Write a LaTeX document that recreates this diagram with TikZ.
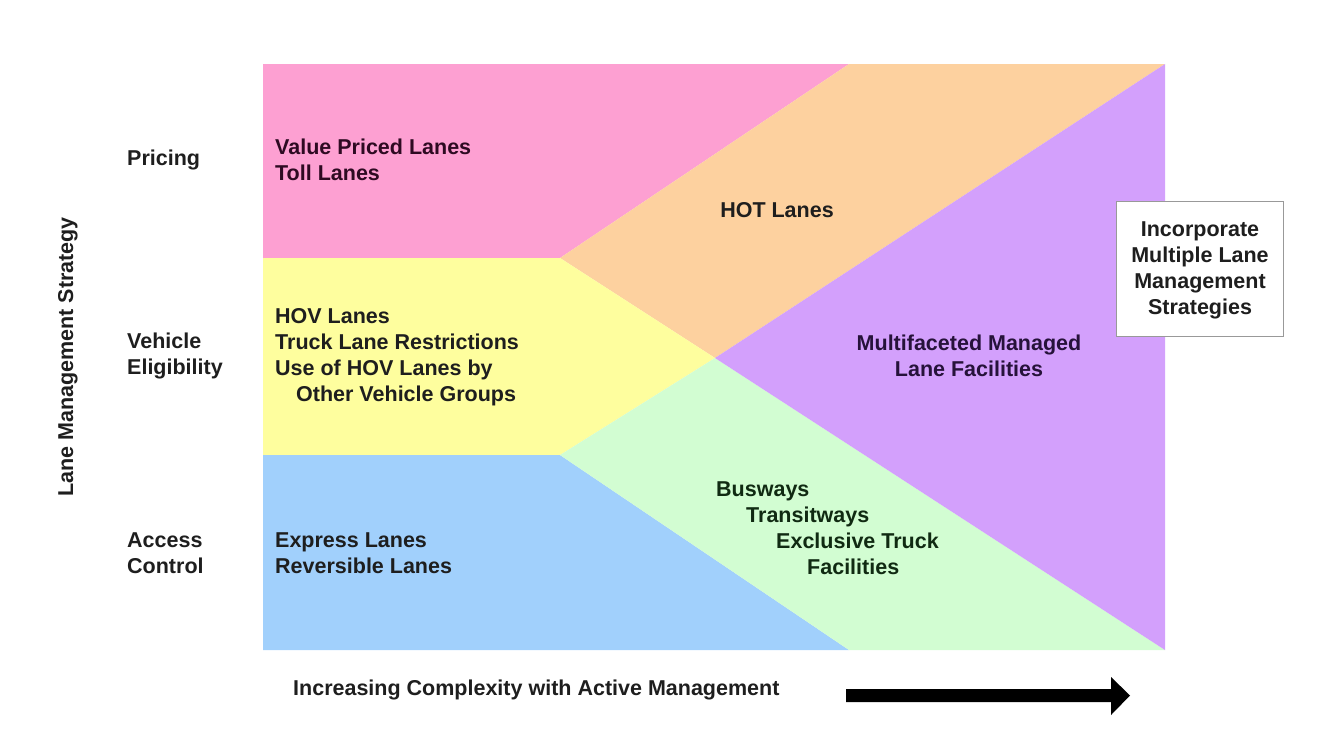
\documentclass[tikz,border=0pt]{standalone}
\usepackage{fontspec}
\setmainfont{Liberation Sans}
\definecolor{cpink}{HTML}{FDA0D2}
\definecolor{corange}{HTML}{FDD19F}
\definecolor{cyellow}{HTML}{FEFE9E}
\definecolor{cblue}{HTML}{A1D0FC}
\definecolor{cgreen}{HTML}{D2FDD2}
\definecolor{cpurple}{HTML}{D3A0FC}
\definecolor{tpink}{HTML}{2E0A22}
\definecolor{tpurple}{HTML}{26123A}
\definecolor{tgreen}{HTML}{102A12}
\definecolor{tgen}{HTML}{1E1E1E}
\tikzset{
  lbl/.style={font=\fontsize{21.5}{26}\selectfont\bfseries, inner sep=0pt, align=left, text=tgen},
  lblc/.style={lbl, align=center},
}
\begin{document}
\begin{tikzpicture}[x=1pt,y=-1pt]
\useasboundingbox (0,0) rectangle (1341,745);
% corner coordinates
\coordinate (TL) at (263,64);
\coordinate (TR) at (1165,64);
\coordinate (BL) at (263,650);
\coordinate (BR) at (1165,650);
\coordinate (P1) at (560,258);
\coordinate (P2) at (560,455);
\coordinate (C) at (715,358);
\coordinate (T1) at (849,64);
\coordinate (B1) at (849,650);
\coordinate (L1) at (263,258);
\coordinate (L2) at (263,455);
% regions
\fill[cpink] (TL) -- (T1) -- (P1) -- (L1) -- cycle;
\fill[corange] (T1) -- (TR) -- (C) -- (P1) -- cycle;
\fill[cyellow] (L1) -- (P1) -- (C) -- (P2) -- (L2) -- cycle;
\fill[cblue] (L2) -- (P2) -- (B1) -- (BL) -- cycle;
\fill[cgreen] (P2) -- (C) -- (BR) -- (B1) -- cycle;
\fill[cpurple] (C) -- (TR) -- (BR) -- cycle;
% left labels
\node[lbl, anchor=west] (pricing) at (127,160) {Pricing};
\node[lbl, anchor=west] (vehicle) at (127,356) {Vehicle\\Eligibility};
\node[lbl, anchor=west] (access) at (127,553) {Access\\Control};
\node[lbl, rotate=90] (lms) at (68,357) {Lane Management Strategy};
% region labels
\node[lbl, anchor=west, text=tpink] (vpl) at (275,160) {Value Priced Lanes\\Toll Lanes};
\node[lbl, anchor=west] (hov) at (275,357) {HOV Lanes\\Truck Lane Restrictions\\Use of HOV Lanes by\\\hspace*{21pt}Other Vehicle Groups};
\node[lbl, anchor=west] (exp) at (275,553) {Express Lanes\\Reversible Lanes};
\node[lblc] (hot) at (777,210) {HOT Lanes};
\node[lblc, text=tpurple] (mmf) at (969,356) {Multifaceted Managed\\Lane Facilities};
\node[lbl, anchor=west, text=tgreen] (bus) at (716,528) {Busways\\\hspace*{30pt}Transitways\\\hspace*{60pt}Exclusive Truck\\\hspace*{91pt}Facilities};
% box
\node[draw=black!40, line width=0.9pt, fill=white, minimum width=167pt, minimum height=135pt, inner sep=0pt] (box) at (1199.5,268.5) {};
\node[lblc] (boxt) at (1200,270) {Incorporate\\Multiple Lane\\Management\\Strategies};
% bottom
\node[lbl, anchor=west] (inc) at (293,690) {Increasing Complexity with Active Management};
\fill[black] (846,689) -- (1111,689) -- (1111,677) -- (1130,695.5) -- (1111,715) -- (1111,702) -- (846,702) -- cycle;
\end{tikzpicture}
\end{document}
